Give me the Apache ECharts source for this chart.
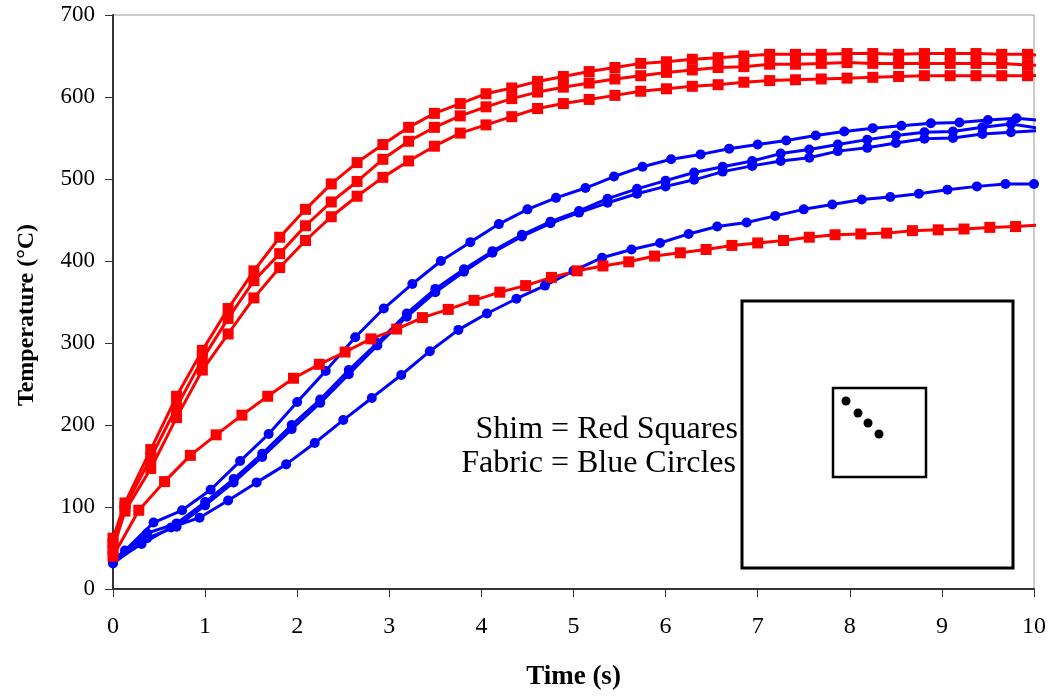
<!DOCTYPE html>
<html><head><meta charset="utf-8">
<script src="https://cdn.jsdelivr.net/npm/echarts@6/dist/echarts.min.js"></script>
<style>html,body{margin:0;padding:0;background:#fff}#c{width:1051px;height:696px}</style>
</head><body><div id="c"></div>
<script>
// Time grids (s)
const shimTimeA = [0,0.13,0.41,0.69,0.97,1.25,1.53,1.81,2.09,2.37,2.65,2.93,3.21,3.49,3.77,4.05,4.33,4.61,4.89,5.17,5.45,5.73,6.01,6.29,6.57,6.85,7.13,7.41,7.69,7.97,8.25,8.53,8.81,9.09,9.37,9.65,9.93,10.21];
const shimTimeB = [0,0.28,0.56,0.84,1.12,1.4,1.68,1.96,2.24,2.52,2.8,3.08,3.36,3.64,3.92,4.2,4.48,4.76,5.04,5.32,5.6,5.88,6.16,6.44,6.72,7,7.28,7.56,7.84,8.12,8.4,8.68,8.96,9.24,9.52,9.8,10.08];
const fabricTimeA = [0,0.13,0.44,0.75,1.06,1.38,1.69,2,2.31,2.63,2.94,3.25,3.56,3.88,4.19,4.5,4.81,5.13,5.44,5.75,6.06,6.38,6.69,7,7.31,7.63,7.94,8.25,8.56,8.88,9.19,9.5,9.81,10.13];
const fabricTimeB = [0,0.31,0.63,0.94,1.25,1.56,1.88,2.19,2.5,2.81,3.13,3.44,3.75,4.06,4.38,4.69,5,5.31,5.63,5.94,6.25,6.56,6.88,7.19,7.5,7.81,8.13,8.44,8.75,9.06,9.38,9.69,10];
const fabricTimeC = [0,0.37,0.69,1,1.31,1.62,1.94,2.25,2.56,2.87,3.19,3.5,3.81,4.12,4.44,4.75,5.06,5.37,5.69,6,6.31,6.62,6.94,7.25,7.56,7.87,8.19,8.5,8.81,9.12,9.44,9.75,10.06];

// Shim temperatures (°C) — red squares
const shim1 = [62,105,170,235,291,342,388,429,463,494,520,542,563,580,592,604,611,619,625,631,636,641,643,646,648,650,652,652,652,653,653,652,653,653,653,652,652,650];
const shim2 = [55,100,160,222,280,330,376,409,443,472,497,524,546,563,577,588,598,606,612,617,622,626,630,633,636,637,640,640,641,642,641,641,641,641,641,641,639,638];
const shim3 = [48,95,147,209,267,311,355,392,425,454,479,502,522,540,556,566,576,586,592,597,602,607,610,613,615,618,620,621,622,623,624,625,626,626,626,626,626,627];
const shim4 = [40,96,131,163,188,212,235,257,274,289,305,317,331,341,352,362,370,380,388,394,399,406,410,414,419,422,425,429,432,433,434,437,438,439,441,442,444];

// Fabric temperatures (°C) — blue circles
const fabric1 = [35,47,81,96,121,156,189,228,266,307,342,372,400,423,445,463,477,489,503,515,524,530,537,542,547,553,558,562,565,568,569,572,574,571];
const fabric2 = [33,68,80,106,134,165,200,231,267,300,336,366,390,412,432,448,461,476,488,498,508,515,522,531,536,542,548,553,557,558,563,567,562];
const fabric3 = [31,62,76,102,130,161,195,227,262,297,332,362,387,410,430,446,459,471,482,491,499,509,516,522,526,534,538,544,549,550,555,557,559];
const fabric4 = [33,55,75,87,108,130,152,178,206,233,261,290,316,336,354,370,388,404,414,422,433,442,447,455,463,469,475,478,482,487,491,494,494];

const xTicks = [0,1,2,3,4,5,6,7,8,9,10];
const yTicks = [0,100,200,300,400,500,600,700];
const annotation = ['Shim = Red Squares', 'Fabric = Blue Circles'];

const pair = (ts, vs) => ts.map((t, i) => [t, vs[i]]);
const FONT = '"Liberation Serif","Times New Roman",serif';

function mk(ts, vs, color, symbol, size) {
  return {
    type: 'line', data: pair(ts, vs), symbol: symbol, symbolSize: size,
    showAllSymbol: true, clip: true, smooth: false,
    lineStyle: { color: color, width: 3 },
    itemStyle: { color: color, borderWidth: 0 },
    emphasis: { disabled: true }, animation: false
  };
}

const chart = echarts.init(document.getElementById('c'));
chart.setOption({
  animation: false,
  backgroundColor: '#ffffff',
  grid: { left: 113, right: 17, top: 15, bottom: 104, show: true, borderColor: '#999', borderWidth: 1 },
  xAxis: {
    type: 'value', min: xTicks[0], max: xTicks[xTicks.length - 1], interval: 1,
    name: 'Time (s)', nameLocation: 'middle', nameGap: 75,
    nameTextStyle: { fontFamily: FONT, fontWeight: 'bold', fontSize: 27, color: '#000' },
    axisLine: { lineStyle: { color: '#333', width: 2 } },
    axisTick: { show: true, length: 8, lineStyle: { color: '#333', width: 1 } },
    axisLabel: { fontFamily: FONT, fontSize: 24, color: '#000', margin: 26 },
    splitLine: { show: false }
  },
  yAxis: {
    type: 'value', min: yTicks[0], max: yTicks[yTicks.length - 1], interval: 100,
    name: 'Temperature (°C)', nameLocation: 'middle', nameGap: 74, nameRotate: 90,
    nameTextStyle: { fontFamily: FONT, fontWeight: 'bold', fontSize: 24, color: '#000', padding: [0, 26, 0, 0] },
    axisLine: { lineStyle: { color: '#333', width: 2 } },
    axisTick: { show: true, length: 8, lineStyle: { color: '#333', width: 1 } },
    axisLabel: { fontFamily: FONT, fontSize: 23, color: '#000', margin: 18 },
    splitLine: { show: false }
  },
  series: [
    mk(fabricTimeB, fabric4, '#0000ff', 'circle', 10),
    mk(fabricTimeC, fabric3, '#0000ff', 'circle', 10),
    mk(fabricTimeC, fabric2, '#0000ff', 'circle', 10),
    mk(fabricTimeA, fabric1, '#0000ff', 'circle', 10),
    mk(shimTimeB, shim4, '#ff0000', 'rect', 11),
    mk(shimTimeA, shim3, '#ff0000', 'rect', 11),
    mk(shimTimeA, shim2, '#ff0000', 'rect', 11),
    mk(shimTimeA, shim1, '#ff0000', 'rect', 11)
  ],
  graphic: [
    { type: 'text', right: 1051 - 738, top: 414, style: { text: annotation[0], font: '32px ' + FONT, fill: '#000', textAlign: 'right' } },
    { type: 'text', right: 1051 - 736, top: 448, style: { text: annotation[1], font: '32px ' + FONT, fill: '#000', textAlign: 'right' } },
    { type: 'rect', shape: { x: 742, y: 301, width: 271, height: 267 }, style: { fill: '#fff', stroke: '#000', lineWidth: 3 }, z: 10 },
    { type: 'rect', shape: { x: 833, y: 388, width: 93, height: 89 }, style: { fill: 'none', stroke: '#000', lineWidth: 2.5 }, z: 11 },
    { type: 'circle', shape: { cx: 846, cy: 401, r: 4.5 }, style: { fill: '#000' }, z: 11 },
    { type: 'circle', shape: { cx: 858, cy: 413, r: 4.5 }, style: { fill: '#000' }, z: 11 },
    { type: 'circle', shape: { cx: 868, cy: 423, r: 4.5 }, style: { fill: '#000' }, z: 11 },
    { type: 'circle', shape: { cx: 879, cy: 434, r: 4.5 }, style: { fill: '#000' }, z: 11 }
  ]
});
</script></body></html>
